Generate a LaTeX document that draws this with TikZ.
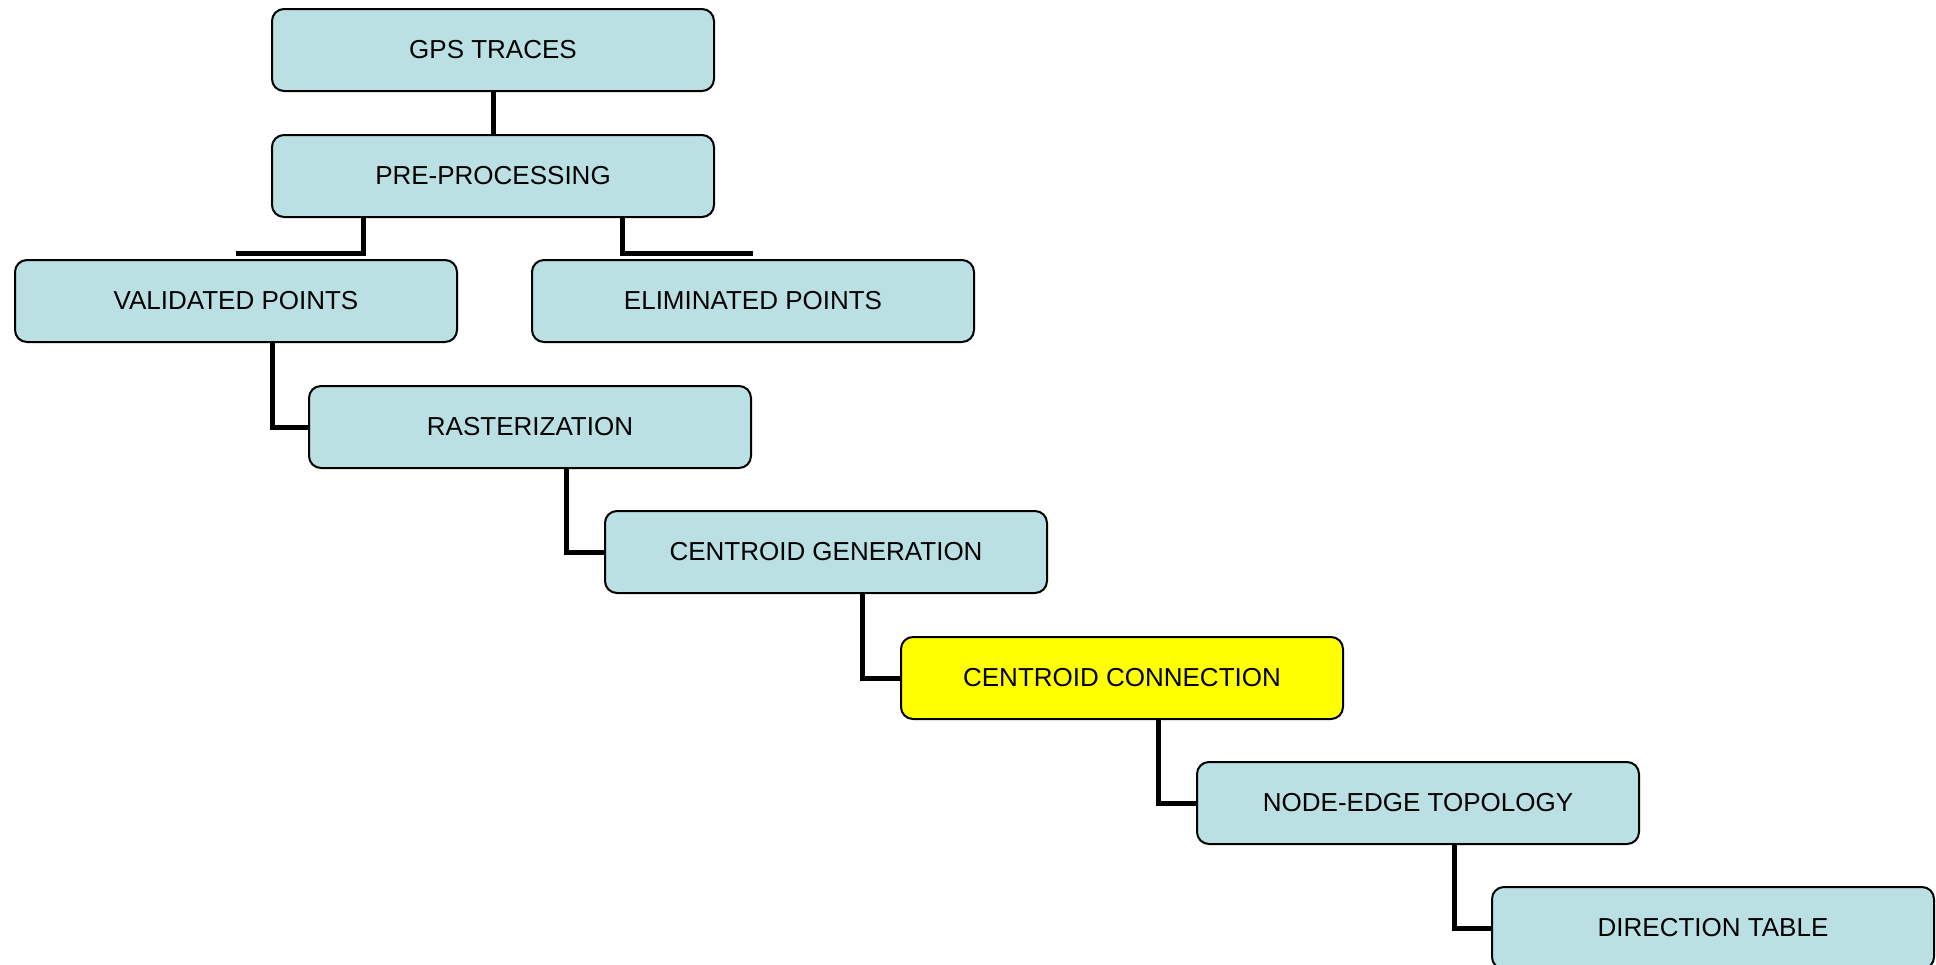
\documentclass[tikz,border=0pt]{standalone}
\usepackage{fontspec}
\setmainfont{Liberation Sans}
\definecolor{boxcyan}{HTML}{BAE0E3}
\definecolor{boxyellow}{HTML}{FFFF00}
\begin{document}
\begin{tikzpicture}[x=1pt,y=-1pt,
  stage/.style={draw=black, line width=2pt, rounded corners=12pt, fill=boxcyan,
    minimum width=442pt, minimum height=82pt, anchor=north west, inner sep=0pt,
    font=\fontsize{26}{30}\selectfont},
  hot/.style={stage, fill=boxyellow},
  link/.style={draw=black, line width=5pt}]
\useasboundingbox (0,0) rectangle (1936,964);
\clip (0,0) rectangle (1936,964);
\node[stage] (gps)  at (271,8)   {GPS TRACES};
\node[stage] (pre)  at (271,134) {PRE-PROCESSING};
\node[stage] (val)  at (14,259)  {VALIDATED POINTS};
\node[stage] (elim) at (531,259) {ELIMINATED POINTS};
\node[stage] (rast) at (308,385) {RASTERIZATION};
\node[stage] (cgen) at (604,510) {CENTROID GENERATION};
\node[hot]   (ccon) at (900,636) {CENTROID CONNECTION};
\node[stage] (topo) at (1196,761) {NODE-EDGE TOPOLOGY};
\node[stage] (dir)  at (1491,886) {DIRECTION TABLE};
\draw[link] (gps.south) -- (pre.north);
\draw[link] (pre.south west) ++(92,0) |- ([yshift=6pt]val.north);
\draw[link] (pre.south west) ++(351,0) |- ([yshift=6pt]elim.north);
\draw[link] (val.south west) ++(258,0) |- (rast.west);
\draw[link] (rast.south west) ++(258,0) |- (cgen.west);
\draw[link] (cgen.south west) ++(258,0) |- (ccon.west);
\draw[link] (ccon.south west) ++(258,0) |- (topo.west);
\draw[link] (topo.south west) ++(258,0) |- (dir.west);
\end{tikzpicture}
\end{document}
